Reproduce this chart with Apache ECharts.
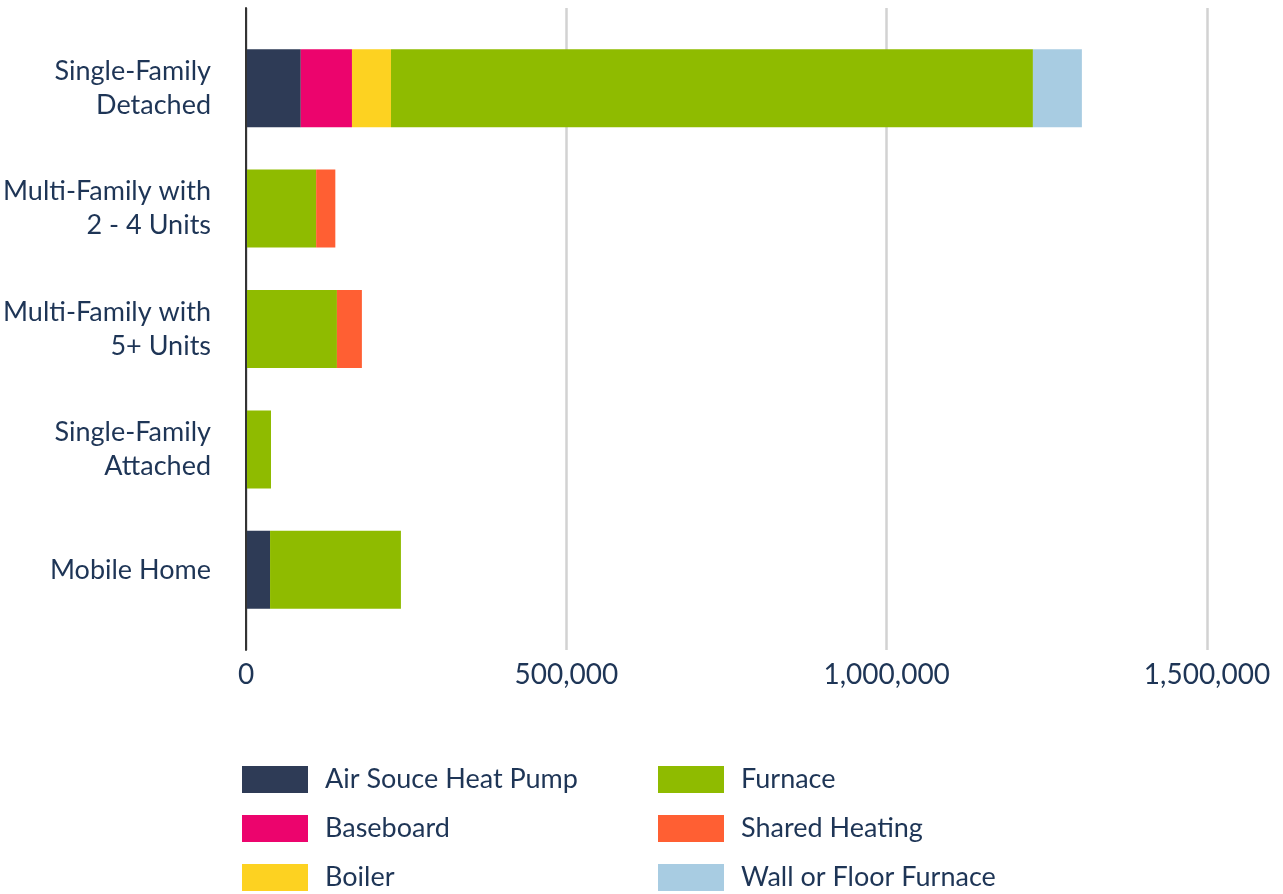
<!DOCTYPE html>
<html>
<head>
<meta charset="utf-8">
<script src="https://cdn.jsdelivr.net/npm/echarts@6/dist/echarts.min.js"></script>
<style>
  html, body { margin: 0; padding: 0; background: #fff; }
  #chart { width: 1283px; height: 894px; }
</style>
</head>
<body>
<div id="chart"></div>
<script>
// housing types (top to bottom)
const categories = [
  'Single-Family\nDetached',
  'Multi-Family with\n2 - 4 Units',
  'Multi-Family with\n5+ Units',
  'Single-Family\nAttached',
  'Mobile Home'
];

// heating system counts per housing type
const airSourceHeatPump = [84000, 0, 0, 0, 36000];
const baseboard = [80000, 0, 0, 0, 0];
const boiler = [61000, 0, 0, 0, 0];
const furnace = [1003000, 108000, 140500, 37500, 204500];
const sharedHeating = [0, 30000, 39000, 0, 0];
const wallOrFloorFurnace = [76500, 0, 0, 0, 0];

const xTicks = [0, 500000, 1000000, 1500000];

const textColor = '#1e3556';
const fontFamily = 'Lato, "Noto Sans", sans-serif';

const seriesDefs = [
  { name: 'Air Souce Heat Pump', data: airSourceHeatPump, color: '#2e3b56' },
  { name: 'Baseboard', data: baseboard, color: '#ec046d' },
  { name: 'Boiler', data: boiler, color: '#fdd221' },
  { name: 'Furnace', data: furnace, color: '#8fbb00' },
  { name: 'Shared Heating', data: sharedHeating, color: '#ff5f33' },
  { name: 'Wall or Floor Furnace', data: wallOrFloorFurnace, color: '#a8cce2' }
];

const chart = echarts.init(document.getElementById('chart'));

const legendCommon = {
  orient: 'vertical',
  top: 766,
  padding: 0,
  itemWidth: 66,
  itemHeight: 27,
  itemGap: 22,
  icon: 'rect',
  selectedMode: false,
  textStyle: {
    fontSize: 27,
    color: textColor,
    fontFamily: fontFamily,
    padding: [0, 0, 0, 12],
    lineHeight: 27
  }
};

const option = {
  backgroundColor: '#fff',
  animation: false,
  legend: [
    Object.assign({ left: 242, data: seriesDefs.slice(0, 3).map(s => s.name) }, legendCommon),
    Object.assign({ left: 658, data: seriesDefs.slice(3).map(s => s.name) }, legendCommon)
  ],
  grid: [
    // bars
    { left: 246, top: 28, width: 961, height: 602, containLabel: false },
    // gridlines, axis line and tick labels (taller than the bar band)
    { left: 246, top: 8, width: 961, height: 642, containLabel: false }
  ],
  xAxis: [
    { gridIndex: 0, type: 'value', min: 0, max: 1500000, show: false },
    {
      gridIndex: 1, type: 'value', min: 0, max: 1500000, interval: 500000,
      axisLine: { show: false },
      axisTick: { show: false },
      splitLine: { show: true, lineStyle: { color: '#d2d2d2', width: 2.5 } },
      axisLabel: {
        margin: 11,
        fontSize: 28,
        color: textColor,
        fontFamily: fontFamily,
        formatter: v => xTicks.includes(v) ? v.toLocaleString('en-US') : ''
      }
    }
  ],
  yAxis: [
    {
      gridIndex: 0, type: 'category', data: categories, inverse: true,
      axisLine: { show: false },
      axisTick: { show: false },
      axisLabel: {
        margin: 36,
        fontSize: 27,
        lineHeight: 34,
        color: textColor,
        fontFamily: fontFamily,
        align: 'right'
      }
    },
    {
      gridIndex: 1, type: 'value', min: 0, max: 1,
      axisLine: { show: true, lineStyle: { color: '#333', width: 2 } },
      axisTick: { show: false },
      axisLabel: { show: false },
      splitLine: { show: false }
    }
  ],
  series: seriesDefs.map(s => ({
    name: s.name,
    type: 'bar',
    stack: 'total',
    xAxisIndex: 0,
    yAxisIndex: 0,
    barWidth: 78,
    data: s.data,
    itemStyle: { color: s.color },
    emphasis: { disabled: true }
  }))
};

chart.setOption(option);
</script>
</body>
</html>
